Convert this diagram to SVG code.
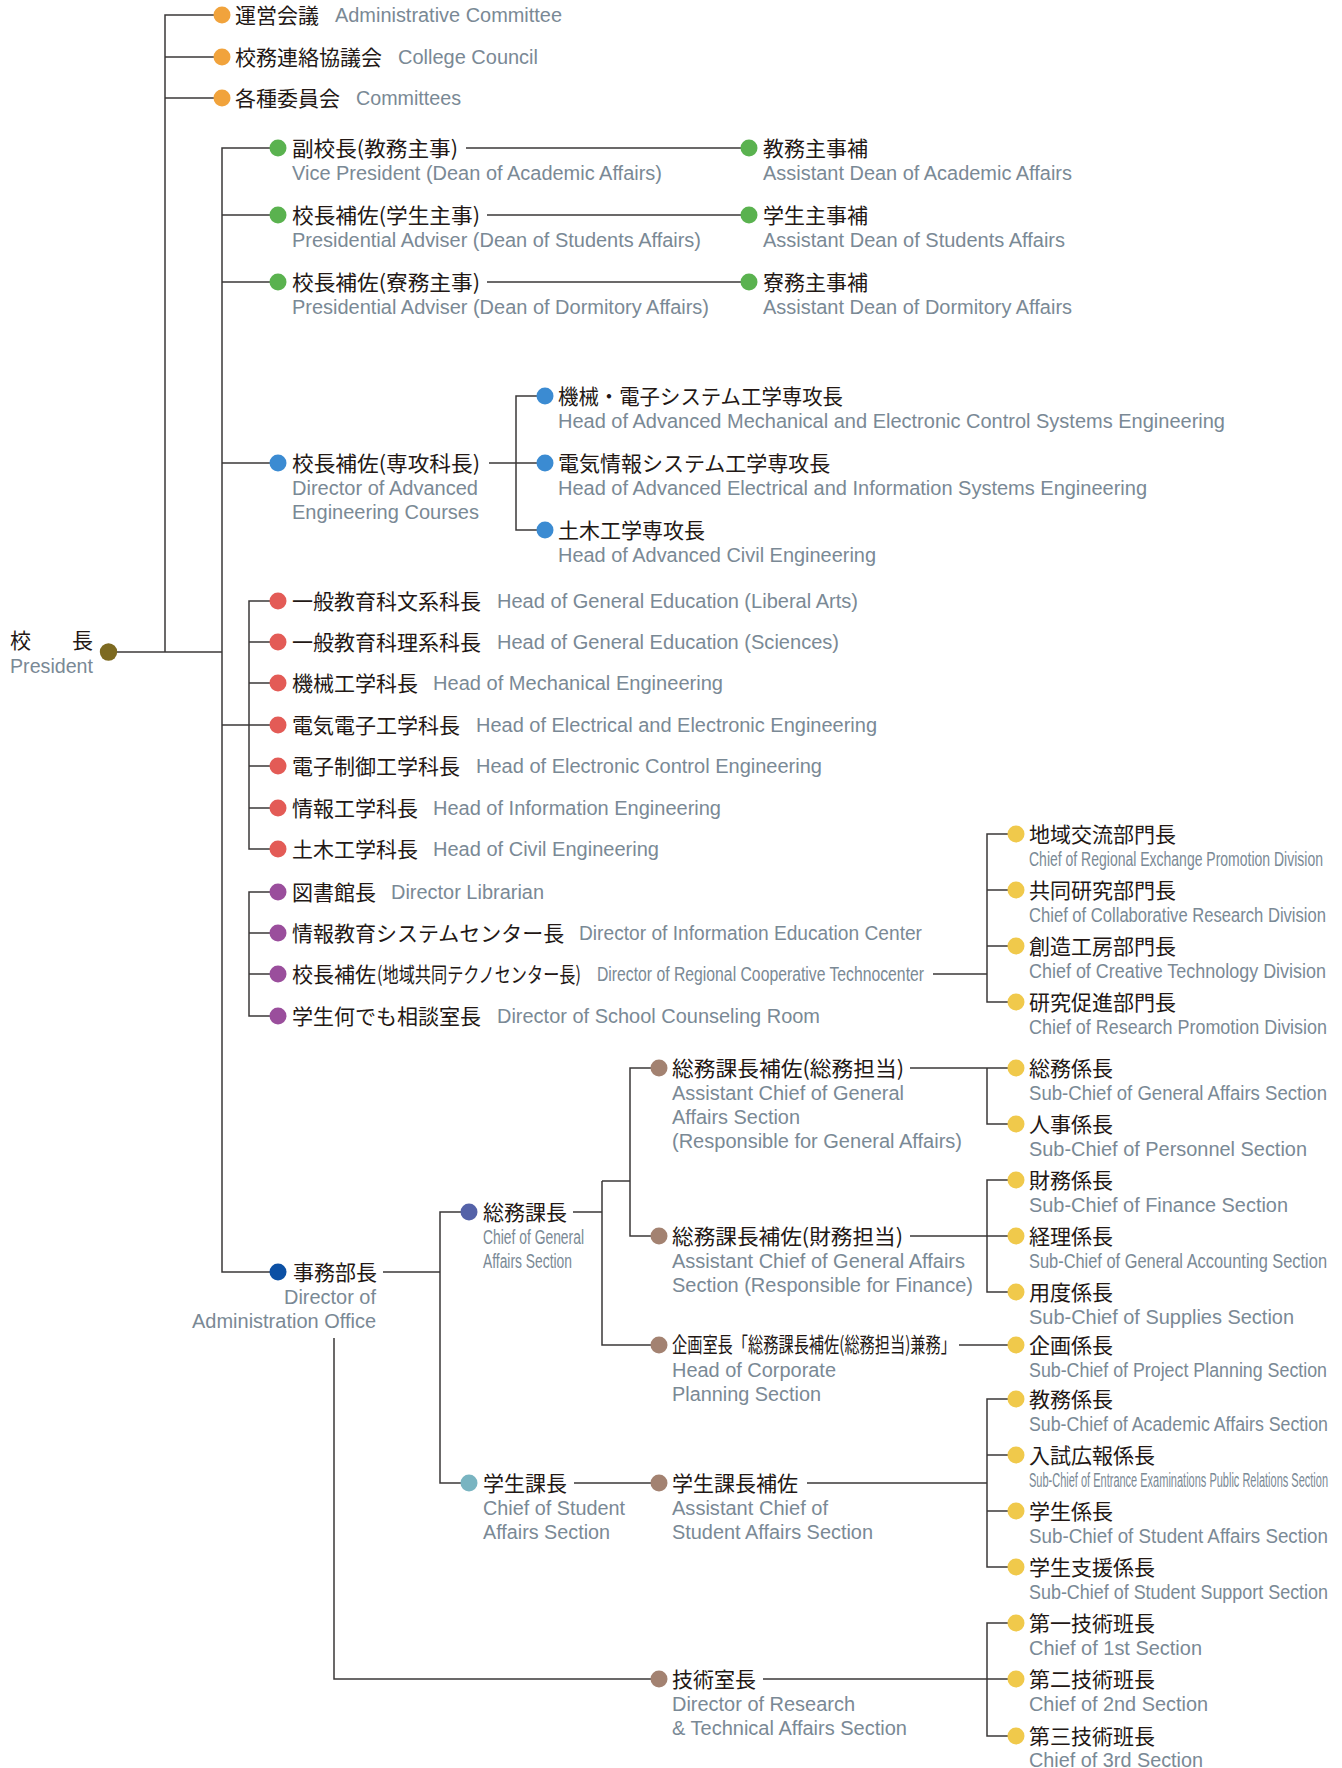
<svg xmlns="http://www.w3.org/2000/svg" width="1342" height="1768" viewBox="0 0 1342 1768">
<style>
.ln{fill:none;stroke:#3b3838;stroke-width:1.5}
.jp{font-family:"Noto Sans CJK JP",sans-serif;font-size:21px;fill:#231815}
.en{font-family:"Liberation Sans",Arial,sans-serif;font-size:20px;fill:#7a8995}
.or{fill:#f1a33c}.gr{fill:#5ab24f}.bl{fill:#3b8bd2}.rd{fill:#e35b56}.pu{fill:#9a4e9c}
.ye{fill:#f0c94b}.br{fill:#a38271}.pr{fill:#7d6a21}.nv{fill:#0c50a4}.sm{fill:#5462a8}.tl{fill:#79b4c1}
</style>
<g id="connectors">
<path class="ln" d="M222,15 H165 V652 M165,57 H222 M165,98 H222"/>
<path class="ln" d="M108,652 H222"/>
<path class="ln" d="M278,148 H222 V1272 H278 M222,215 H278 M222,282 H278 M222,463 H278 M222,725 H278"/>
<path class="ln" d="M466,148 H749 M487,215 H749 M487,282 H749"/>
<path class="ln" d="M489,463 H545 M545,396 H516 V530 H545"/>
<path class="ln" d="M278,601 H249 V849 H278 M249,642 H278 M249,683 H278 M249,766 H278 M249,808 H278"/>
<path class="ln" d="M278,892 H249 V1016 H278 M249,933 H278 M249,974 H278"/>
<path class="ln" d="M933,974 H987 M1016,834 H987 V1002 H1016 M987,890 H1016 M987,946 H1016"/>
<path class="ln" d="M383,1272 H440 M469,1212 H440 V1483 H469"/>
<path class="ln" d="M573,1212 H602 M602,1181 V1345 H659 M602,1181 H630 M659,1068 H630 V1236 H659"/>
<path class="ln" d="M910,1068 H987 M1016,1068 H987 V1124 H1016"/>
<path class="ln" d="M910,1236 H1016 M1016,1180 H987 V1292 H1016"/>
<path class="ln" d="M959,1345 H1016"/>
<path class="ln" d="M574,1483 H659 M807,1483 H987 M1016,1399 H987 V1567 H1016 M987,1455 H1016 M987,1511 H1016"/>
<path class="ln" d="M334,1338 V1679 H659 M763,1679 H1016 M1016,1623 H987 V1736 H1016"/>
</g>

<g id="n-admin-committee"><circle class="or" cx="222" cy="15" r="8.5"/><text class="jp" x="235" y="23">運営会議</text><text class="en" x="335" y="22" textLength="227" lengthAdjust="spacingAndGlyphs">Administrative Committee</text></g>
<g id="n-college-council"><circle class="or" cx="222" cy="57" r="8.5"/><text class="jp" x="235" y="65">校務連絡協議会</text><text class="en" x="398" y="64" textLength="140" lengthAdjust="spacingAndGlyphs">College Council</text></g>
<g id="n-committees"><circle class="or" cx="222" cy="98" r="8.5"/><text class="jp" x="235" y="106">各種委員会</text><text class="en" x="356" y="105" textLength="105" lengthAdjust="spacingAndGlyphs">Committees</text></g>

<g id="n-president"><circle class="pr" cx="108.5" cy="652" r="8.7"/><text class="jp" x="10" y="648">校</text><text class="jp" x="93" y="648" text-anchor="end">長</text><text class="en" x="10" y="673" textLength="83" lengthAdjust="spacingAndGlyphs">President</text></g>

<g id="n-vice-president"><circle class="gr" cx="278" cy="148" r="8.5"/><text class="jp" x="292" y="156" textLength="166" lengthAdjust="spacingAndGlyphs">副校長(教務主事)</text><text class="en" x="292" y="180" textLength="370" lengthAdjust="spacingAndGlyphs">Vice President (Dean of Academic Affairs)</text></g>
<g id="n-adviser-students"><circle class="gr" cx="278" cy="215" r="8.5"/><text class="jp" x="292" y="223" textLength="188" lengthAdjust="spacingAndGlyphs">校長補佐(学生主事)</text><text class="en" x="292" y="247" textLength="409" lengthAdjust="spacingAndGlyphs">Presidential Adviser (Dean of Students Affairs)</text></g>
<g id="n-adviser-dormitory"><circle class="gr" cx="278" cy="282" r="8.5"/><text class="jp" x="292" y="290" textLength="188" lengthAdjust="spacingAndGlyphs">校長補佐(寮務主事)</text><text class="en" x="292" y="314" textLength="417" lengthAdjust="spacingAndGlyphs">Presidential Adviser (Dean of Dormitory Affairs)</text></g>
<g id="n-asst-academic"><circle class="gr" cx="749" cy="148" r="8.5"/><text class="jp" x="763" y="156">教務主事補</text><text class="en" x="763" y="180" textLength="309" lengthAdjust="spacingAndGlyphs">Assistant Dean of Academic Affairs</text></g>
<g id="n-asst-students"><circle class="gr" cx="749" cy="215" r="8.5"/><text class="jp" x="763" y="223">学生主事補</text><text class="en" x="763" y="247" textLength="302" lengthAdjust="spacingAndGlyphs">Assistant Dean of Students Affairs</text></g>
<g id="n-asst-dormitory"><circle class="gr" cx="749" cy="282" r="8.5"/><text class="jp" x="763" y="290">寮務主事補</text><text class="en" x="763" y="314" textLength="309" lengthAdjust="spacingAndGlyphs">Assistant Dean of Dormitory Affairs</text></g>

<g id="n-adv-courses"><circle class="bl" cx="278" cy="463" r="8.5"/><text class="jp" x="292" y="471" textLength="188" lengthAdjust="spacingAndGlyphs">校長補佐(専攻科長)</text><text class="en" x="292" y="495" textLength="186" lengthAdjust="spacingAndGlyphs">Director of Advanced</text><text class="en" x="292" y="519" textLength="187" lengthAdjust="spacingAndGlyphs">Engineering Courses</text></g>
<g id="n-adv-mech"><circle class="bl" cx="545" cy="396" r="8.5"/><text class="jp" x="558" y="404" textLength="285" lengthAdjust="spacingAndGlyphs">機械・電子システム工学専攻長</text><text class="en" x="558" y="428" textLength="667" lengthAdjust="spacingAndGlyphs">Head of Advanced Mechanical and Electronic Control Systems Engineering</text></g>
<g id="n-adv-elec"><circle class="bl" cx="545" cy="463" r="8.5"/><text class="jp" x="558" y="471">電気情報システム工学専攻長</text><text class="en" x="558" y="495" textLength="589" lengthAdjust="spacingAndGlyphs">Head of Advanced Electrical and Information Systems Engineering</text></g>
<g id="n-adv-civil"><circle class="bl" cx="545" cy="530" r="8.5"/><text class="jp" x="558" y="538">土木工学専攻長</text><text class="en" x="558" y="562" textLength="318" lengthAdjust="spacingAndGlyphs">Head of Advanced Civil Engineering</text></g>

<g id="n-gen-liberal"><circle class="rd" cx="278" cy="601" r="8.5"/><text class="jp" x="292" y="609">一般教育科文系科長</text><text class="en" x="497" y="608" textLength="361" lengthAdjust="spacingAndGlyphs">Head of General Education (Liberal Arts)</text></g>
<g id="n-gen-sciences"><circle class="rd" cx="278" cy="642" r="8.5"/><text class="jp" x="292" y="650">一般教育科理系科長</text><text class="en" x="497" y="649" textLength="342" lengthAdjust="spacingAndGlyphs">Head of General Education (Sciences)</text></g>
<g id="n-mech"><circle class="rd" cx="278" cy="683" r="8.5"/><text class="jp" x="292" y="691">機械工学科長</text><text class="en" x="433" y="690" textLength="290" lengthAdjust="spacingAndGlyphs">Head of Mechanical Engineering</text></g>
<g id="n-elec"><circle class="rd" cx="278" cy="725" r="8.5"/><text class="jp" x="292" y="733">電気電子工学科長</text><text class="en" x="476" y="732" textLength="401" lengthAdjust="spacingAndGlyphs">Head of Electrical and Electronic Engineering</text></g>
<g id="n-control"><circle class="rd" cx="278" cy="766" r="8.5"/><text class="jp" x="292" y="774">電子制御工学科長</text><text class="en" x="476" y="773" textLength="346" lengthAdjust="spacingAndGlyphs">Head of Electronic Control Engineering</text></g>
<g id="n-info"><circle class="rd" cx="278" cy="808" r="8.5"/><text class="jp" x="292" y="816">情報工学科長</text><text class="en" x="433" y="815" textLength="288" lengthAdjust="spacingAndGlyphs">Head of Information Engineering</text></g>
<g id="n-civil"><circle class="rd" cx="278" cy="849" r="8.5"/><text class="jp" x="292" y="857">土木工学科長</text><text class="en" x="433" y="856" textLength="226" lengthAdjust="spacingAndGlyphs">Head of Civil Engineering</text></g>

<g id="n-library"><circle class="pu" cx="278" cy="892" r="8.5"/><text class="jp" x="292" y="900">図書館長</text><text class="en" x="391" y="899" textLength="153" lengthAdjust="spacingAndGlyphs">Director Librarian</text></g>
<g id="n-info-center"><circle class="pu" cx="278" cy="933" r="8.5"/><text class="jp" x="292" y="941">情報教育システムセンター長</text><text class="en" x="579" y="940" textLength="343" lengthAdjust="spacingAndGlyphs">Director of Information Education Center</text></g>
<g id="n-techno"><circle class="pu" cx="278" cy="974" r="8.5"/><text class="jp" x="292" y="982">校長補佐</text><text class="jp" x="377" y="982" font-size="15" textLength="204" lengthAdjust="spacingAndGlyphs">(地域共同テクノセンター長)</text><text class="en" x="597" y="981" textLength="327" lengthAdjust="spacingAndGlyphs">Director of Regional Cooperative Technocenter</text></g>
<g id="n-counseling"><circle class="pu" cx="278" cy="1016" r="8.5"/><text class="jp" x="292" y="1024">学生何でも相談室長</text><text class="en" x="497" y="1023" textLength="323" lengthAdjust="spacingAndGlyphs">Director of School Counseling Room</text></g>

<g id="n-regional"><circle class="ye" cx="1016" cy="834" r="8.5"/><text class="jp" x="1029" y="842">地域交流部門長</text><text class="en" x="1029" y="866" textLength="294" lengthAdjust="spacingAndGlyphs">Chief of Regional Exchange Promotion Division</text></g>
<g id="n-collab"><circle class="ye" cx="1016" cy="890" r="8.5"/><text class="jp" x="1029" y="898">共同研究部門長</text><text class="en" x="1029" y="922" textLength="297" lengthAdjust="spacingAndGlyphs">Chief of Collaborative Research Division</text></g>
<g id="n-creative"><circle class="ye" cx="1016" cy="946" r="8.5"/><text class="jp" x="1029" y="954">創造工房部門長</text><text class="en" x="1029" y="978" textLength="297" lengthAdjust="spacingAndGlyphs">Chief of Creative Technology Division</text></g>
<g id="n-research"><circle class="ye" cx="1016" cy="1002" r="8.5"/><text class="jp" x="1029" y="1010">研究促進部門長</text><text class="en" x="1029" y="1034" textLength="298" lengthAdjust="spacingAndGlyphs">Chief of Research Promotion Division</text></g>

<g id="n-admin-office"><circle class="nv" cx="278" cy="1272" r="8.5"/><text class="jp" x="293" y="1280">事務部長</text><text class="en" x="284" y="1304" textLength="92" lengthAdjust="spacingAndGlyphs">Director of</text><text class="en" x="192" y="1328" textLength="184" lengthAdjust="spacingAndGlyphs">Administration Office</text></g>
<g id="n-general-affairs"><circle class="sm" cx="469" cy="1212" r="8.5"/><text class="jp" x="483" y="1220">総務課長</text><text class="en" x="483" y="1244" textLength="101" lengthAdjust="spacingAndGlyphs">Chief of General</text><text class="en" x="483" y="1268" textLength="89" lengthAdjust="spacingAndGlyphs">Affairs Section</text></g>
<g id="n-asst-general"><circle class="br" cx="659" cy="1068" r="8.5"/><text class="jp" x="672" y="1076" textLength="232" lengthAdjust="spacingAndGlyphs">総務課長補佐(総務担当)</text><text class="en" x="672" y="1100" textLength="232" lengthAdjust="spacingAndGlyphs">Assistant Chief of General</text><text class="en" x="672" y="1124" textLength="128" lengthAdjust="spacingAndGlyphs">Affairs Section</text><text class="en" x="672" y="1148" textLength="290" lengthAdjust="spacingAndGlyphs">(Responsible for General Affairs)</text></g>
<g id="n-asst-finance"><circle class="br" cx="659" cy="1236" r="8.5"/><text class="jp" x="672" y="1244" textLength="231" lengthAdjust="spacingAndGlyphs">総務課長補佐(財務担当)</text><text class="en" x="672" y="1268" textLength="293" lengthAdjust="spacingAndGlyphs">Assistant Chief of General Affairs</text><text class="en" x="672" y="1292" textLength="301" lengthAdjust="spacingAndGlyphs">Section (Responsible for Finance)</text></g>
<g id="n-planning"><circle class="br" cx="659" cy="1345" r="8.5"/><text class="jp" x="672" y="1352" font-size="20" textLength="284" lengthAdjust="spacingAndGlyphs">企画室長「総務課長補佐(総務担当)兼務」</text><text class="en" x="672" y="1377" textLength="164" lengthAdjust="spacingAndGlyphs">Head of Corporate</text><text class="en" x="672" y="1401" textLength="149" lengthAdjust="spacingAndGlyphs">Planning Section</text></g>
<g id="n-student-affairs"><circle class="tl" cx="469" cy="1483" r="8.5"/><text class="jp" x="483" y="1491">学生課長</text><text class="en" x="483" y="1515" textLength="142" lengthAdjust="spacingAndGlyphs">Chief of Student</text><text class="en" x="483" y="1539" textLength="127" lengthAdjust="spacingAndGlyphs">Affairs Section</text></g>
<g id="n-asst-student"><circle class="br" cx="659" cy="1483" r="8.5"/><text class="jp" x="672" y="1491">学生課長補佐</text><text class="en" x="672" y="1515" textLength="156" lengthAdjust="spacingAndGlyphs">Assistant Chief of</text><text class="en" x="672" y="1539" textLength="201" lengthAdjust="spacingAndGlyphs">Student Affairs Section</text></g>
<g id="n-technical"><circle class="br" cx="659" cy="1679" r="8.5"/><text class="jp" x="672" y="1687">技術室長</text><text class="en" x="672" y="1711" textLength="183" lengthAdjust="spacingAndGlyphs">Director of Research</text><text class="en" x="672" y="1735" textLength="235" lengthAdjust="spacingAndGlyphs">&amp; Technical Affairs Section</text></g>

<g id="n-sec-general"><circle class="ye" cx="1016" cy="1068" r="8.5"/><text class="jp" x="1029" y="1076">総務係長</text><text class="en" x="1029" y="1100" textLength="298" lengthAdjust="spacingAndGlyphs">Sub-Chief of General Affairs Section</text></g>
<g id="n-sec-personnel"><circle class="ye" cx="1016" cy="1124" r="8.5"/><text class="jp" x="1029" y="1132">人事係長</text><text class="en" x="1029" y="1156" textLength="278" lengthAdjust="spacingAndGlyphs">Sub-Chief of Personnel Section</text></g>
<g id="n-sec-finance"><circle class="ye" cx="1016" cy="1180" r="8.5"/><text class="jp" x="1029" y="1188">財務係長</text><text class="en" x="1029" y="1212" textLength="259" lengthAdjust="spacingAndGlyphs">Sub-Chief of Finance Section</text></g>
<g id="n-sec-accounting"><circle class="ye" cx="1016" cy="1236" r="8.5"/><text class="jp" x="1029" y="1244">経理係長</text><text class="en" x="1029" y="1268" textLength="298" lengthAdjust="spacingAndGlyphs">Sub-Chief of General Accounting Section</text></g>
<g id="n-sec-supplies"><circle class="ye" cx="1016" cy="1292" r="8.5"/><text class="jp" x="1029" y="1300">用度係長</text><text class="en" x="1029" y="1324" textLength="265" lengthAdjust="spacingAndGlyphs">Sub-Chief of Supplies Section</text></g>
<g id="n-sec-planning"><circle class="ye" cx="1016" cy="1345" r="8.5"/><text class="jp" x="1029" y="1353">企画係長</text><text class="en" x="1029" y="1377" textLength="298" lengthAdjust="spacingAndGlyphs">Sub-Chief of Project Planning Section</text></g>
<g id="n-sec-academic"><circle class="ye" cx="1016" cy="1399" r="8.5"/><text class="jp" x="1029" y="1407">教務係長</text><text class="en" x="1029" y="1431" textLength="299" lengthAdjust="spacingAndGlyphs">Sub-Chief of Academic Affairs Section</text></g>
<g id="n-sec-entrance"><circle class="ye" cx="1016" cy="1455" r="8.5"/><text class="jp" x="1029" y="1463">入試広報係長</text><text class="en" x="1029" y="1487" textLength="299" lengthAdjust="spacingAndGlyphs">Sub-Chief of Entrance Examinations Public Relations Section</text></g>
<g id="n-sec-student"><circle class="ye" cx="1016" cy="1511" r="8.5"/><text class="jp" x="1029" y="1519">学生係長</text><text class="en" x="1029" y="1543" textLength="299" lengthAdjust="spacingAndGlyphs">Sub-Chief of Student Affairs Section</text></g>
<g id="n-sec-support"><circle class="ye" cx="1016" cy="1567" r="8.5"/><text class="jp" x="1029" y="1575">学生支援係長</text><text class="en" x="1029" y="1599" textLength="299" lengthAdjust="spacingAndGlyphs">Sub-Chief of Student Support Section</text></g>
<g id="n-tech-1"><circle class="ye" cx="1016" cy="1623" r="8.5"/><text class="jp" x="1029" y="1631">第一技術班長</text><text class="en" x="1029" y="1655" textLength="173" lengthAdjust="spacingAndGlyphs">Chief of 1st Section</text></g>
<g id="n-tech-2"><circle class="ye" cx="1016" cy="1679" r="8.5"/><text class="jp" x="1029" y="1687">第二技術班長</text><text class="en" x="1029" y="1711" textLength="179" lengthAdjust="spacingAndGlyphs">Chief of 2nd Section</text></g>
<g id="n-tech-3"><circle class="ye" cx="1016" cy="1736" r="8.5"/><text class="jp" x="1029" y="1744">第三技術班長</text><text class="en" x="1029" y="1767" textLength="174" lengthAdjust="spacingAndGlyphs">Chief of 3rd Section</text></g>
</svg>
